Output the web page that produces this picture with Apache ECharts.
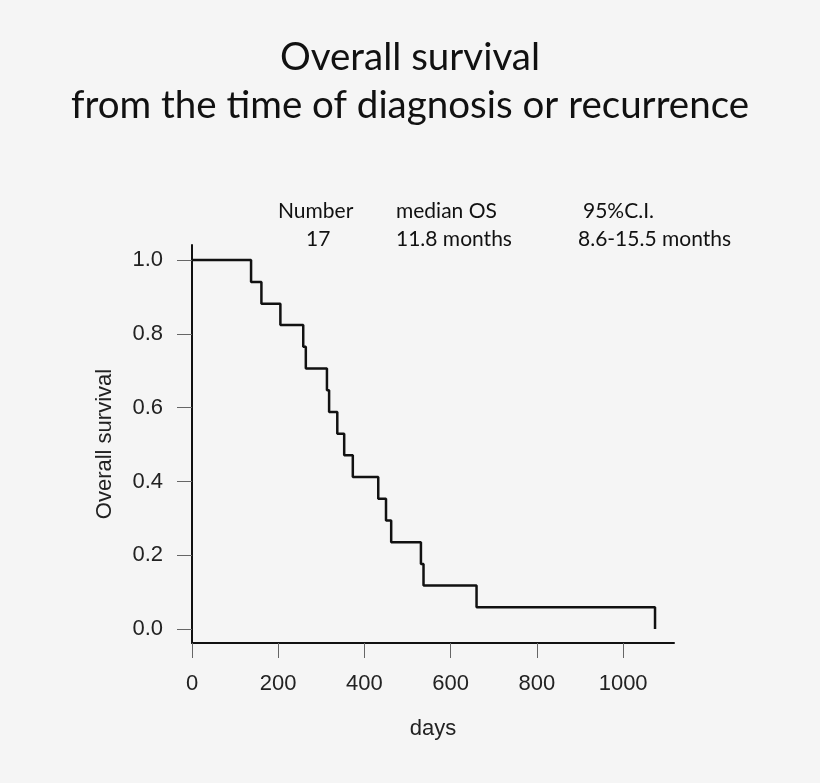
<!DOCTYPE html>
<html>
<head>
<meta charset="utf-8">
<script src="https://cdn.jsdelivr.net/npm/echarts@6/dist/echarts.min.js"></script>
<style>
  html, body { margin: 0; padding: 0; background: #f5f5f5; }
  #chart { width: 820px; height: 783px; }
</style>
</head>
<body>
<div id="chart"></div>
<script>
// event times (days) and survival right after each step
const days = [0, 137, 161, 205, 258, 264, 313, 318, 337, 353, 373, 432, 450, 462, 531, 537, 660, 1074];
const survival = [1.0, 0.941, 0.882, 0.824, 0.765, 0.706, 0.647, 0.588, 0.529, 0.471, 0.412, 0.353, 0.294, 0.235, 0.176, 0.118, 0.059, 0.0];
const xTicks = [0, 200, 400, 600, 800, 1000];
const yTicks = [0, 0.2, 0.4, 0.6, 0.8, 1.0];

const chart = echarts.init(document.getElementById('chart'));

const labelFont = 'Liberation Sans, Arial, sans-serif';
const textFont = 'Lato, Open Sans, sans-serif';

// texto do quadro de resumo acima do gráfico
const summary = [
  ['Number', 278, 213], ['median OS', 396, 213], ['95%C.I.', 583, 213],
  ['17', 306, 241], ['11.8 months', 396, 241], ['8.6-15.5 months', 578, 241]
];

const option = {
  backgroundColor: '#f5f5f5',
  animation: false,
  title: {
    text: 'Overall survival\nfrom the time of diagnosis or recurrence',
    left: 405,
    top: 29,
    textAlign: 'center',
    textStyle: {
      fontFamily: textFont,
      fontWeight: 'normal',
      fontSize: 38.5,
      lineHeight: 48,
      color: '#111',
      align: 'center'
    }
  },
  graphic: summary.map(([t, x, y]) => ({
    type: 'text',
    left: x,
    top: y - 12,
    style: { text: t, font: '21px ' + textFont, fill: '#111' }
  })),
  grid: { left: 192, right: 146, top: 245, bottom: 140 },
  xAxis: {
    type: 'value',
    min: 0,
    max: 1118,
    name: 'days',
    nameLocation: 'middle',
    nameGap: 75,
    nameTextStyle: { fontFamily: labelFont, fontSize: 22, color: '#222' },
    splitLine: { show: false },
    axisLine: { onZero: false, lineStyle: { color: '#111', width: 2 } },
    axisTick: { customValues: xTicks, length: 15, lineStyle: { color: '#666', width: 1 } },
    axisLabel: {
      customValues: xTicks,
      margin: 30,
      fontFamily: labelFont,
      fontSize: 22,
      color: '#222',
      formatter: v => String(v)
    }
  },
  yAxis: {
    type: 'value',
    min: -0.038,
    max: 1.041,
    name: 'Overall survival',
    nameLocation: 'middle',
    nameGap: 76,
    nameTextStyle: { fontFamily: labelFont, fontSize: 22, color: '#222' },
    splitLine: { show: false },
    axisLine: { onZero: false, lineStyle: { color: '#111', width: 2 } },
    axisTick: { customValues: yTicks, length: 15, lineStyle: { color: '#666', width: 1 } },
    axisLabel: {
      customValues: yTicks,
      margin: 29,
      fontFamily: labelFont,
      fontSize: 22,
      color: '#222',
      formatter: v => v.toFixed(1)
    }
  },
  series: [{
    type: 'line',
    step: 'end',
    symbol: 'none',
    data: days.map((d, i) => [d, survival[i]]),
    lineStyle: { color: '#111', width: 2.5 }
  }]
};

chart.setOption(option);
</script>
</body>
</html>
